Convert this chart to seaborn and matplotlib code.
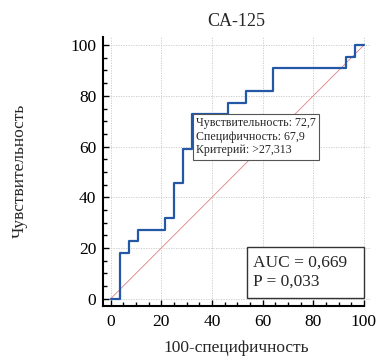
import matplotlib
matplotlib.use("Agg")
import matplotlib.pyplot as plt
import seaborn as sns
import pandas as pd
from matplotlib.ticker import MultipleLocator
from matplotlib.patches import Rectangle

# Data
fpr = [0, 3.57, 7.14, 10.71, 21.43, 25.0, 28.57, 32.14, 46.43, 53.57, 64.29, 92.86, 96.43, 100]
tpr = [0, 18.18, 22.73, 27.27, 31.82, 45.45, 59.09, 72.73, 77.27, 81.82, 90.91, 95.45, 100, 100]
diag_x = [0, 100]
diag_y = [0, 100]
title = "CA-125"
xlabel = "100-специфичность"
ylabel = "Чувствительность"
ticks = [0, 20, 40, 60, 80, 100]
op_x, op_y = 32.14, 72.73
op_text = "Чувствительность: 72,7\nСпецифичность: 67,9\nКритерий: >27,313"
auc_text = "AUC = 0,669\nP = 0,033"

sns.set_theme(style="white")
plt.rcParams["font.family"] = ["Liberation Serif", "DejaVu Serif"]

fig = plt.figure(figsize=(3.77, 3.56), dpi=100)
ax = fig.add_axes([0.274, 0.1413, 0.7074, 0.7548])

df = pd.DataFrame({"x": fpr, "y": tpr})
dd = pd.DataFrame({"x": diag_x, "y": diag_y})
sns.lineplot(data=dd, x="x", y="y", ax=ax, color="#e08080", lw=0.6, zorder=2)
sns.lineplot(data=df, x="x", y="y", ax=ax, color="#2458a6", lw=1.6,
             drawstyle="steps-post", sort=False, zorder=3)

ax.set_xlim(-2.92, 102.4)
ax.set_ylim(-2.76, 103.2)
ax.set_xticks(ticks)
ax.set_yticks(ticks)
ax.xaxis.set_minor_locator(MultipleLocator(5))
ax.yaxis.set_minor_locator(MultipleLocator(5))
ax.tick_params(which="major", direction="in", length=4.5, width=1, labelsize=12.5,
               colors="black", pad=5)
ax.tick_params(which="minor", direction="in", length=3, width=1, colors="black")
ax.tick_params(axis="x", which="major", pad=6)
ax.tick_params(bottom=True, left=True, which="both")

ax.grid(True, which="major", color="#c8c8c8", lw=0.6, ls=(0, (1.5, 1.5)), zorder=0)
ax.set_axisbelow(True)

for s in ["top", "right"]:
    ax.spines[s].set_visible(False)
for s in ["left", "bottom"]:
    ax.spines[s].set_linewidth(1.5)
    ax.spines[s].set_color("black")
ax.spines["bottom"].set_bounds(-2.92, 100.2)

ax.set_title(title, fontsize=13, pad=8)
ax.set_xlabel(xlabel, fontsize=12.5, labelpad=7)
ax.set_ylabel(ylabel, fontsize=12.5, labelpad=31)

# operating point box
ax.annotate(op_text, xy=(op_x, op_y), xytext=(4, -3), textcoords="offset pixels",
            ha="left", va="top", fontsize=8.6, linespacing=1.18, zorder=5,
            bbox=dict(boxstyle="square,pad=0.28", fc="white", ec="#555555", lw=0.8))

# AUC box
ax.add_patch(Rectangle((53.9, 0.2), 46.3, 20.3, fc="white", ec="#333333", lw=1.0, zorder=4))
ax.text(56.3, 10.4, auc_text, ha="left", va="center", fontsize=12.5,
        linespacing=1.25, zorder=5)

fig.savefig("out.png", dpi=100)
